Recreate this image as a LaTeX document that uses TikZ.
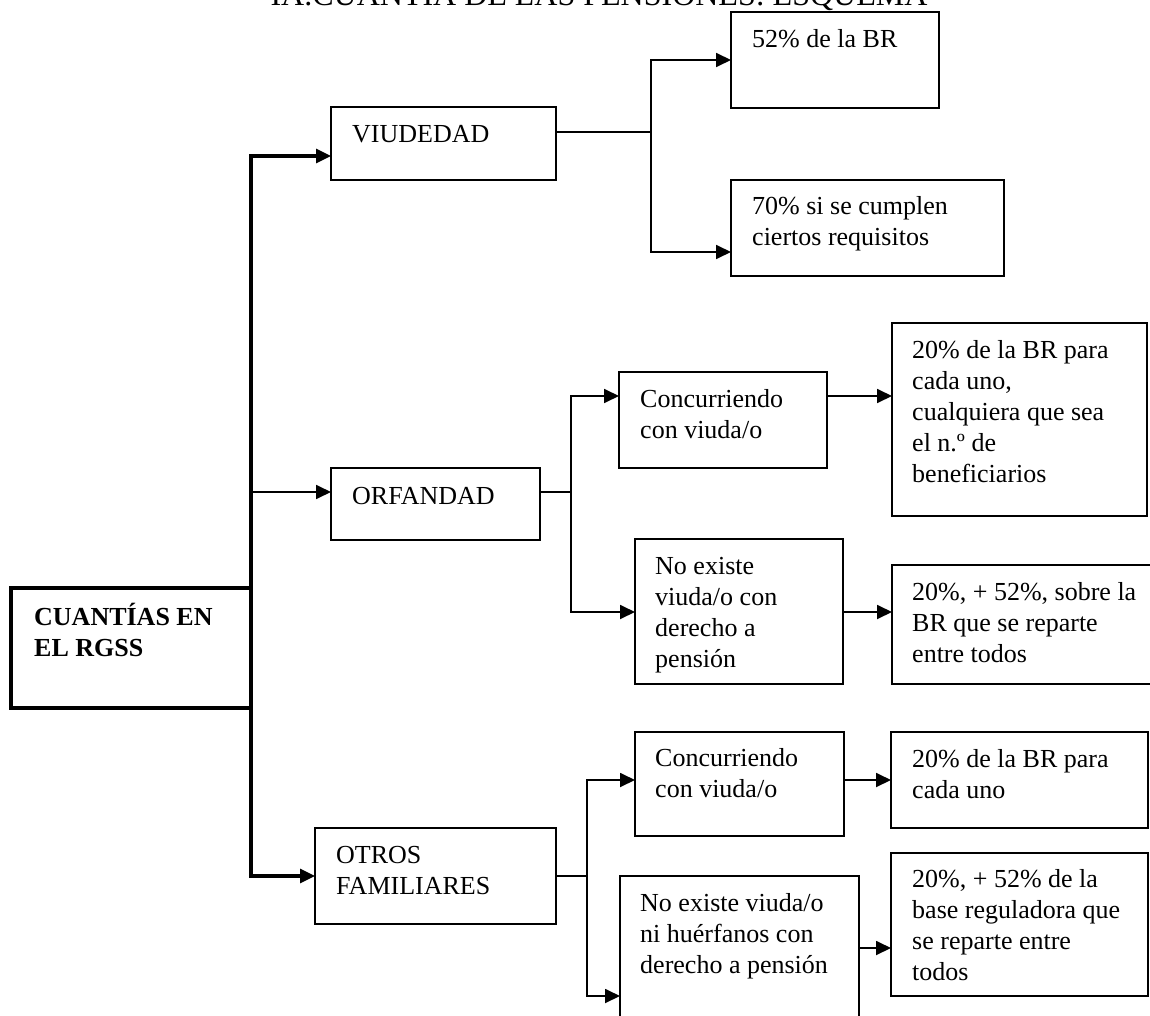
\documentclass[tikz,border=0pt]{standalone}
\usepackage{fontspec}
\setmainfont{Liberation Serif}
\usetikzlibrary{arrows.meta}
\newcommand\txtlines[1]{\begin{tabular}[t]{@{}l@{}}#1\end{tabular}}
\begin{document}
\begin{tikzpicture}[x=1pt,y=-1pt,
  box/.style={draw, line width=1.6pt, inner sep=0pt, outer sep=0pt, anchor=north west},
  rootbox/.style={box, line width=3.2pt},
  txt/.style={anchor=base west, inner sep=0pt, font=\fontsize{26}{31}\selectfont},
  conn/.style={line width=1.8pt},
  arr/.style={conn, -{Triangle[length=15pt,width=14pt]}},
  thickarr/.style={line width=3.2pt, -{Triangle[length=15pt,width=14pt]}},
]
\fill[white] (0,0) rectangle (1150,1016);
\clip (0,0) rectangle (1150,1016);

% title (cut at top as in the reference)
\node[anchor=base, inner sep=0pt, font=\fontsize{32}{38}\selectfont] (title) at (599,6) {IA.CUANTÍA DE LAS PENSIONES: ESQUEMA};

% root
\node[rootbox, minimum width=240pt, minimum height=120pt] (root) at (11,588) {};
\node[txt, font=\bfseries\fontsize{26}{31}\selectfont] (roott) at ([xshift=23pt,yshift=-37pt]root.north west) {\txtlines{CUANTÍAS EN\\EL RGSS}};

% viudedad
\node[box, minimum width=225pt, minimum height=73pt] (viu) at (331,107) {};
\node[txt] (viut) at ([xshift=21pt,yshift=-36pt]viu.north west) {VIUDEDAD};
\node[box, minimum width=208pt, minimum height=96pt] (v52) at (731,12) {};
\node[txt] (v52t) at ([xshift=21pt,yshift=-36pt]v52.north west) {52\% de la BR};
\node[box, minimum width=273pt, minimum height=96pt] (v70) at (731,180) {};
\node[txt] (v70t) at ([xshift=21pt,yshift=-35pt]v70.north west) {\txtlines{70\% si se cumplen\\ciertos requisitos}};

% orfandad
\node[box, minimum width=209pt, minimum height=72pt] (orf) at (331,468) {};
\node[txt] (orft) at ([xshift=21pt,yshift=-36pt]orf.north west) {ORFANDAD};
\node[box, minimum width=208pt, minimum height=96pt] (oc) at (619,372) {};
\node[txt] (oct) at ([xshift=21pt,yshift=-35pt]oc.north west) {\txtlines{Concurriendo\\con viuda/o}};
\node[box, minimum width=255pt, minimum height=193pt] (oc2) at (892,323) {};
\node[txt] (oc2t) at ([xshift=20pt,yshift=-35pt]oc2.north west) {\txtlines{20\% de la BR para\\cada uno,\\cualquiera que sea\\el n.º de\\beneficiarios}};
\node[box, minimum width=208pt, minimum height=145pt] (on) at (635,539) {};
\node[txt] (ont) at ([xshift=20pt,yshift=-35pt]on.north west) {\txtlines{No existe\\viuda/o con\\derecho a\\pensión}};
\node[box, minimum width=300pt, minimum height=119pt] (on2) at (892,565) {};
\node[txt] (on2t) at ([xshift=20pt,yshift=-35pt]on2.north west) {\txtlines{20\%, + 52\%, sobre la\\BR que se reparte\\entre todos}};

% otros familiares
\node[box, minimum width=241pt, minimum height=96pt] (otr) at (315,828) {};
\node[txt] (otrt) at ([xshift=21pt,yshift=-35pt]otr.north west) {\txtlines{OTROS\\FAMILIARES}};
\node[box, minimum width=209pt, minimum height=104pt] (fc) at (635,732) {};
\node[txt] (fct) at ([xshift=20pt,yshift=-34pt]fc.north west) {\txtlines{Concurriendo\\con viuda/o}};
\node[box, minimum width=257pt, minimum height=96pt] (fc2) at (891,732) {};
\node[txt] (fc2t) at ([xshift=21pt,yshift=-35pt]fc2.north west) {\txtlines{20\% de la BR para\\cada uno}};
\node[box, minimum width=239pt, minimum height=200pt] (fn) at (620,876) {};
\node[txt] (fnt) at ([xshift=20pt,yshift=-35pt]fn.north west) {\txtlines{No existe viuda/o\\ni huérfanos con\\derecho a pensión}};
\node[box, minimum width=257pt, minimum height=143pt] (fn2) at (891,853) {};
\node[txt] (fn2t) at ([xshift=21pt,yshift=-34pt]fn2.north west) {\txtlines{20\%, + 52\% de la\\base reguladora que\\se reparte entre\\todos}};

% trunk
\coordinate (ttop) at (251,156);
\coordinate (tbot) at (251,876);
\coordinate (torf) at (251,492);
\draw[thickarr] (root.north east) -- (ttop) -- (ttop -| viu.west);
\draw[thickarr] (root.south east) -- (tbot) -- (tbot -| otr.west);
\draw[arr] (torf) -- (torf -| orf.west);

% viudedad branches
\coordinate (jv) at (651,132);
\coordinate (jv1) at (651,60);
\coordinate (jv2) at (651,252);
\draw[conn] (jv -| viu.east) -- (jv);
\draw[arr] (jv) -- (jv1) -- (jv1 -| v52.west);
\draw[arr] (jv) -- (jv2) -- (jv2 -| v70.west);

% orfandad branches
\coordinate (jo) at (571,492);
\coordinate (jo1) at (571,396);
\coordinate (jo2) at (571,612);
\draw[conn] (jo -| orf.east) -- (jo);
\draw[arr] (jo) -- (jo1) -- (jo1 -| oc.west);
\draw[arr] (jo) -- (jo2) -- (jo2 -| on.west);
\draw[arr] (jo1 -| oc.east) -- (jo1 -| oc2.west);
\draw[arr] (jo2 -| on.east) -- (jo2 -| on2.west);

% otros familiares branches
\coordinate (jf) at (587,876);
\coordinate (jf1) at (587,780);
\coordinate (jf2) at (587,996);
\draw[conn] (jf -| otr.east) -- (jf);
\draw[arr] (jf) -- (jf1) -- (jf1 -| fc.west);
\draw[arr] (jf) -- (jf2) -- (jf2 -| fn.west);
\draw[arr] (jf1 -| fc.east) -- (jf1 -| fc2.west);
\coordinate (jn) at (859,948);
\draw[arr] (jn -| fn.east) -- (jn -| fn2.west);
\end{tikzpicture}
\end{document}
